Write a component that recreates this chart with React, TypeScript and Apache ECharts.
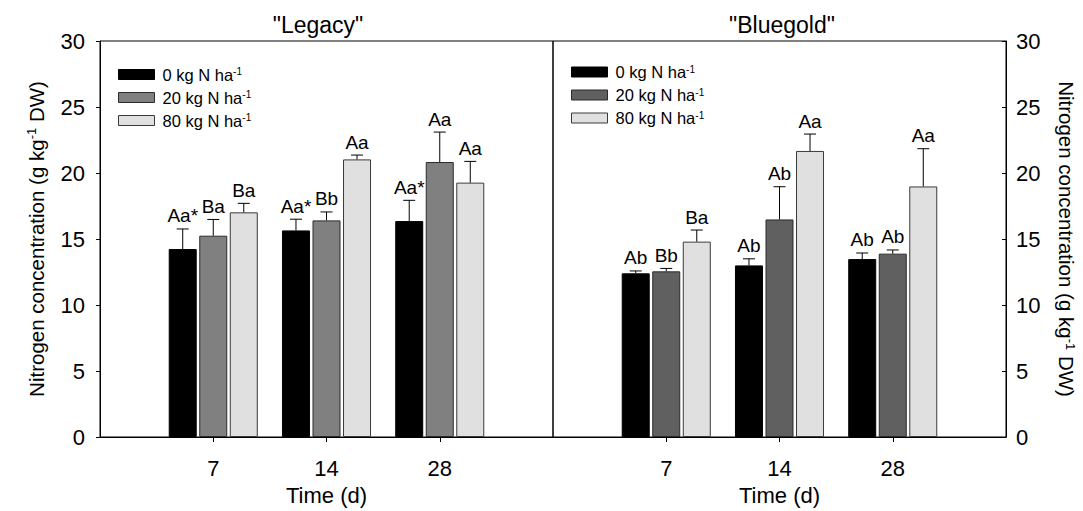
import React, { useEffect, useRef } from 'react';
import * as echarts from 'echarts';

// Sampling days (x categories) and nitrogen rates (series)
const days = ['7', '14', '28'];
const rates = ['0 kg N ha-1', '20 kg N ha-1', '80 kg N ha-1'];

// "Legacy": mean N concentration (g kg-1 DW) and standard error
const legacy0 = [14.24, 15.65, 16.36];
const legacy0Err = [1.52, 0.85, 1.57];
const legacy20 = [15.25, 16.41, 20.83];
const legacy20Err = [1.23, 0.64, 2.27];
const legacy80 = [17.02, 21.03, 19.27];
const legacy80Err = [0.68, 0.33, 1.61];
const legacy0Letters = ['Aa*', 'Aa*', 'Aa*'];
const legacy20Letters = ['Ba', 'Bb', 'Aa'];
const legacy80Letters = ['Ba', 'Aa', 'Aa'];

// "Bluegold": mean N concentration (g kg-1 DW) and standard error
const blue0 = [12.4, 13.0, 13.48];
const blue0Err = [0.18, 0.5, 0.46];
const blue20 = [12.55, 16.48, 13.89];
const blue20Err = [0.22, 2.48, 0.28];
const blue80 = [14.8, 21.67, 18.98];
const blue80Err = [0.88, 1.28, 2.86];
const blue0Letters = ['Ab', 'Ab', 'Ab'];
const blue20Letters = ['Bb', 'Ab', 'Ab'];
const blue80Letters = ['Ba', 'Aa', 'Aa'];

// y-axis ticks
const yMin = 0;
const yMax = 30;
const yStep = 5;

const FONT = '"Liberation Sans", Arial, Helvetica, sans-serif';
const BAR_W = 28;
const BAR_GAP = 2.52;
const STEP = BAR_W + BAR_GAP;

const legacyColors = ['#000000', '#808080', '#e0e0e0'];
const blueColors = ['#000000', '#606060', '#e0e0e0'];
const borderColors = ['#000000', '#2a2a2a', '#3a3a3a'];

type Item = { cat: number; t: number; mean: number; err: number; label: string };

function buildItems(means: number[][], errs: number[][], letters: string[][]): Item[] {
  const out: Item[] = [];
  means.forEach((arr, t) => {
    arr.forEach((m, c) => {
      out.push({ cat: c, t, mean: m, err: errs[t][c], label: letters[t][c] });
    });
  });
  return out;
}

const axisCats = ['', ...days, ''];
const pad = (arr: number[]) => ['-', ...arr, '-'];

function legendFormatter(name: string) {
  return `{t|${name.replace('-1', '')}}{s|-1}`;
}

const yName = '{t|Nitrogen concentration (g kg}{s|-1}{t| DW)}';
const yNameRich = {
  t: { fontSize: 20.5, lineHeight: 22, fontFamily: FONT, color: '#000' },
  s: { fontSize: 13, lineHeight: 14, verticalAlign: 'top', fontFamily: FONT, color: '#000' },
};

export default function App() {
  const ref = useRef<HTMLDivElement>(null);

  useEffect(() => {
    if (!ref.current) return;
    const chart = echarts.init(ref.current, undefined, { renderer: 'svg' });

    const panels = [
      {
        means: [legacy0, legacy20, legacy80],
        errs: [legacy0Err, legacy20Err, legacy80Err],
        letters: [legacy0Letters, legacy20Letters, legacy80Letters],
        colors: legacyColors,
      },
      {
        means: [blue0, blue20, blue80],
        errs: [blue0Err, blue20Err, blue80Err],
        letters: [blue0Letters, blue20Letters, blue80Letters],
        colors: blueColors,
      },
    ];

    const series: any[] = [];
    panels.forEach((p, pi) => {
      p.means.forEach((arr, t) => {
        series.push({
          type: 'bar',
          name: rates[t],
          xAxisIndex: pi,
          yAxisIndex: pi,
          data: pad(arr),
          barWidth: BAR_W,
          barGap: `${(BAR_GAP / BAR_W) * 100}%`,
          itemStyle: { color: p.colors[t], borderColor: borderColors[t], borderWidth: 1 },
          silent: true,
        });
      });
      const items = buildItems(p.means, p.errs, p.letters);
      series.push({
        type: 'custom',
        xAxisIndex: pi,
        yAxisIndex: pi,
        silent: true,
        z: 5,
        data: items.map((d) => [d.cat + 1, d.mean + d.err]),
        encode: { x: 0, y: 1 },
        renderItem: (params: any, api: any) => {
          const d = items[params.dataIndex];
          const base = api.coord([d.cat + 1, d.mean]);
          const top = api.coord([d.cat + 1, api.value(1)]);
          const cx = base[0] + (d.t - 1) * STEP;
          const lineStyle = { stroke: '#000', lineWidth: 1 };
          return {
            type: 'group',
            children: [
              { type: 'line', shape: { x1: cx, y1: base[1], x2: cx, y2: top[1] }, style: lineStyle },
              { type: 'line', shape: { x1: cx - 6, y1: top[1], x2: cx + 6, y2: top[1] }, style: lineStyle },
              {
                type: 'text',
                x: cx,
                y: top[1] - 13,
                style: {
                  text: d.label,
                  fill: '#000',
                  fontSize: 19,
                  fontFamily: FONT,
                  align: 'center',
                  verticalAlign: 'middle',
                },
              },
            ],
          };
        },
      });
    });

    const legendBase = (left: number, top: number, colors: string[]) => ({
      orient: 'vertical',
      left,
      top,
      padding: 0,
      itemWidth: 36,
      itemHeight: 10,
      itemGap: 6,
      selectedMode: false,
      data: rates.map((n, i) => ({
        name: n,
        icon: 'rect',
        itemStyle: { color: colors[i], borderColor: borderColors[i], borderWidth: 1 },
      })),
      formatter: legendFormatter,
      textStyle: {
        color: '#000',
        fontFamily: FONT,
        rich: {
          t: { fontSize: 16.5, lineHeight: 16, padding: [0, 0, 0, 3], color: '#000', fontFamily: FONT },
          s: { fontSize: 10, lineHeight: 10, verticalAlign: 'top', color: '#000', fontFamily: FONT },
        },
      },
    });

    const xAxisBase = (gridIndex: number) => ({
      type: 'category',
      gridIndex,
      data: axisCats,
      boundaryGap: false,
      axisLine: { lineStyle: { color: '#000', width: 1 } },
      axisTick: {
        length: 5,
        interval: (index: number) => index >= 1 && index <= 3,
        lineStyle: { color: '#000' },
      },
      axisLabel: { interval: 0, color: '#000', fontSize: 22, fontFamily: FONT, margin: 20 },
      splitLine: { show: false },
      name: 'Time (d)',
      nameLocation: 'middle',
      nameGap: 47,
      nameTextStyle: { color: '#000', fontSize: 22, fontFamily: FONT },
    });

    chart.setOption({
      animation: false,
      backgroundColor: '#ffffff',
      grid: [
        { left: 100, top: 41, width: 453, height: 396, show: true, borderColor: '#000', borderWidth: 1, backgroundColor: 'transparent' },
        { left: 553, top: 41, width: 453, height: 396, show: true, borderColor: '#000', borderWidth: 1, backgroundColor: 'transparent' },
      ],
      legend: [legendBase(118, 66, legacyColors), legendBase(571, 63.5, blueColors)],
      xAxis: [xAxisBase(0), xAxisBase(1)],
      yAxis: [
        {
          type: 'value',
          gridIndex: 0,
          position: 'left',
          min: yMin,
          max: yMax,
          interval: yStep,
          axisLine: { show: true, lineStyle: { color: '#000' } },
          axisTick: { show: true, length: 4, lineStyle: { color: '#000' } },
          axisLabel: { color: '#000', fontSize: 22, fontFamily: FONT, margin: 15 },
          splitLine: { show: false },
          name: yName,
          nameLocation: 'middle',
          nameGap: 53,
          nameTextStyle: { rich: yNameRich },
        },
        {
          type: 'value',
          gridIndex: 1,
          position: 'right',
          min: yMin,
          max: yMax,
          interval: yStep,
          axisLine: { show: true, lineStyle: { color: '#000' } },
          axisTick: { show: true, inside: true, length: 4, lineStyle: { color: '#000' } },
          axisLabel: { color: '#000', fontSize: 22, fontFamily: FONT, margin: 10 },
          splitLine: { show: false },
          name: yName,
          nameLocation: 'middle',
          nameRotate: -90,
          nameGap: 49,
          nameTextStyle: { rich: yNameRich },
        },
      ],
      graphic: [
        {
          type: 'text',
          x: 318,
          y: 25,
          style: { text: '"Legacy"', fontSize: 23, fontFamily: FONT, fill: '#000', align: 'center', verticalAlign: 'middle' },
        },
        {
          type: 'text',
          x: 782,
          y: 25,
          style: { text: '"Bluegold"', fontSize: 23, fontFamily: FONT, fill: '#000', align: 'center', verticalAlign: 'middle' },
        },
      ],
      series,
    });

    return () => chart.dispose();
  }, []);

  return (
    <div
      ref={ref}
      style={{ position: 'absolute', left: 0, top: 0, width: 1083, height: 511, background: '#fff' }}
    />
  );
}
